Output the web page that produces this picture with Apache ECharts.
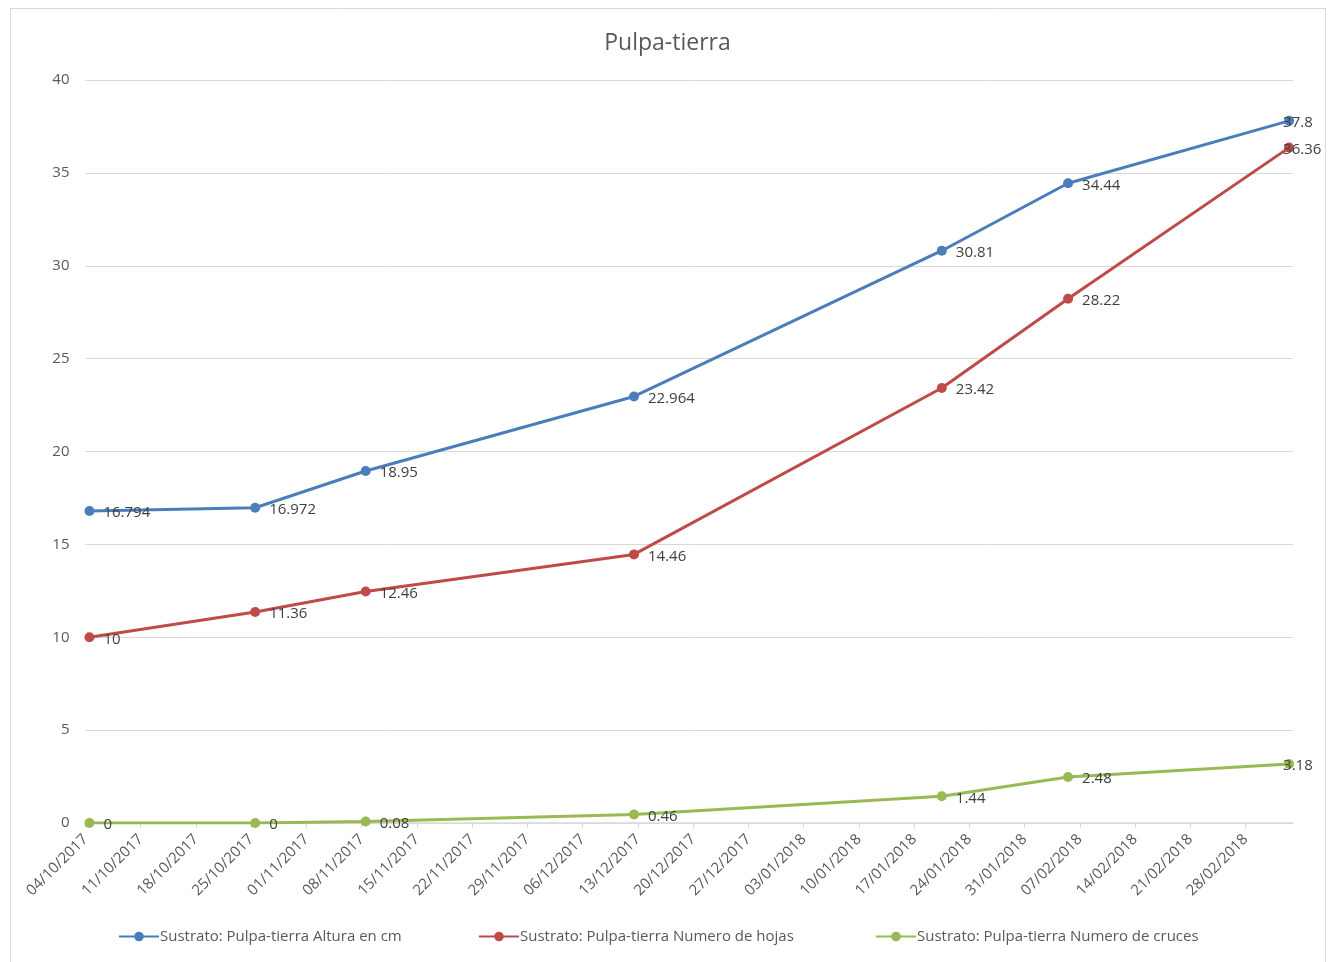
<!DOCTYPE html>
<html>
<head>
<meta charset="utf-8">
<script src="https://cdn.jsdelivr.net/npm/echarts@6/dist/echarts.min.js"></script>
<style>html,body{margin:0;padding:0;background:#fff}#c{width:1335px;height:962px}</style>
</head>
<body>
<div id="c"></div>
<script>
const title = 'Pulpa-tierra';
const dates = ['04/10/2017','25/10/2017','08/11/2017','12/12/2017','20/01/2018','05/02/2018','05/03/2018'];
const altura = [16.794, 16.972, 18.95, 22.964, 30.81, 34.44, 37.8];
const hojas = [10, 11.36, 12.46, 14.46, 23.42, 28.22, 36.36];
const cruces = [0, 0, 0.08, 0.46, 1.44, 2.48, 3.18];
const seriesNames = ['Sustrato: Pulpa-tierra Altura en cm','Sustrato: Pulpa-tierra Numero de hojas','Sustrato: Pulpa-tierra Numero de cruces'];
const axisStart = '04/10/2017';
const axisEnd = '06/03/2018';

const DAY = 86400000;
function parse(s){const p=s.split('/');return Date.UTC(+p[2],+p[1]-1,+p[0]);}
const t0 = parse(axisStart);
function dayOf(s){return Math.round((parse(s)-t0)/DAY);}
function fmt(d){const t=new Date(t0+d*DAY);const dd=String(t.getUTCDate()).padStart(2,'0');const mm=String(t.getUTCMonth()+1).padStart(2,'0');return dd+'/'+mm+'/'+t.getUTCFullYear();}
const xs = dates.map(d=>dayOf(d)+0.5);
const colors = ['#4A7EBB','#BE4B48','#98B954'];
const FONT = 'Open Sans, sans-serif';
function mk(name, vals, i){
  return {
    name, type:'line',
    data: vals.map((v,k)=>{
      const o={value:[xs[k],v]};
      if(k===vals.length-1) o.label={offset:[-20,2]};
      return o;
    }),
    symbol:'circle', symbolSize:10,
    lineStyle:{width:3,color:colors[i]}, itemStyle:{color:colors[i]},
    label:{show:true,position:'right',distance:9,offset:[0,2],color:'#404040',fontSize:15,fontFamily:FONT,formatter:p=>String(p.value[1])},
    z: 3-i
  };
}
function lg(i,left){
  return {bottom:18,left:left,itemWidth:40,itemHeight:12,padding:0,
    textStyle:{color:'#595959',fontSize:15,fontFamily:'Liberation Sans Narrow, Open Sans, sans-serif',padding:[0,0,0,-4]},
    data:[seriesNames[i]]};
}
const chart = echarts.init(document.getElementById('c'));
chart.setOption({
  animation:false,
  title:{text:title,left:'center',top:27,textStyle:{fontSize:23,fontWeight:'normal',color:'#595959',fontFamily:FONT}},
  graphic:[{type:'rect',shape:{x:10.5,y:8.5,width:1315,height:960},style:{fill:'none',stroke:'#d9d9d9',lineWidth:1},silent:true}],
  grid:{left:85.5,right:42,top:80,bottom:139,containLabel:false},
  xAxis:{type:'value',min:0,max:dayOf(axisEnd),interval:7,
    axisLine:{show:true,lineStyle:{color:'#d9d9d9',width:1.5}},
    axisTick:{show:true,length:5,lineStyle:{color:'#d9d9d9'}},
    splitLine:{show:false},
    axisLabel:{rotate:45,margin:14,color:'#595959',fontSize:15,fontFamily:FONT,showMaxLabel:false,
      formatter:v=>(v%7===0?fmt(v):'')}},
  yAxis:{type:'value',min:0,max:40,interval:5,
    axisLine:{show:false},axisTick:{show:false},
    splitLine:{lineStyle:{color:'#d9d9d9',width:1}},
    axisLabel:{margin:16,color:'#595959',fontSize:15,fontFamily:FONT}},
  legend:[lg(0,118),lg(1,478),lg(2,875)],
  series:[mk(seriesNames[0],altura,0),mk(seriesNames[1],hojas,1),mk(seriesNames[2],cruces,2)]
});
</script>
</body>
</html>
